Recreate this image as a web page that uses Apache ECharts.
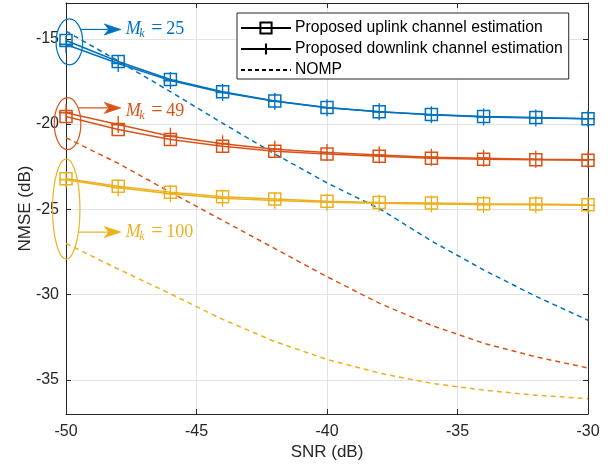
<!DOCTYPE html>
<html>
<head>
<meta charset="utf-8">
<script src="https://cdn.jsdelivr.net/npm/echarts@6/dist/echarts.min.js"></script>
<style>
  html, body { margin: 0; padding: 0; background: #fff; }
  #chart { width: 610px; height: 465px; }
</style>
</head>
<body>
<div id="chart"></div>
<script>
// SNR sweep (dB)
const snr = [-50, -48, -46, -44, -42, -40, -38, -36, -34, -32, -30];

// NMSE (dB), M_k = 25
const up25   = [-15.10, -16.33, -17.39, -18.11, -18.64, -19.03, -19.27, -19.44, -19.56, -19.62, -19.68];
const down25 = [-15.33, -16.45, -17.45, -18.15, -18.66, -19.04, -19.28, -19.46, -19.58, -19.64, -19.69];
const nomp25 = [-14.55, -16.30, -18.10, -19.95, -21.75, -23.45, -24.95, -26.85, -28.55, -30.10, -31.50];

// NMSE (dB), M_k = 49
const up49   = [-19.56, -20.32, -20.91, -21.30, -21.59, -21.76, -21.89, -22.00, -22.06, -22.09, -22.12];
const down49 = [-19.33, -20.03, -20.71, -21.15, -21.47, -21.67, -21.82, -21.94, -22.00, -22.06, -22.09];
const nomp49 = [-20.80, -22.30, -24.00, -25.65, -27.30, -28.95, -30.50, -31.80, -32.85, -33.65, -34.30];

// NMSE (dB), M_k = 100
const up100   = [-23.20, -23.65, -23.99, -24.26, -24.39, -24.52, -24.60, -24.63, -24.67, -24.69, -24.73];
const down100 = [-23.26, -23.73, -24.08, -24.35, -24.48, -24.58, -24.64, -24.68, -24.72, -24.73, -24.76];
const nomp100 = [-27.00, -28.50, -29.95, -31.45, -32.75, -33.80, -34.60, -35.20, -35.60, -35.90, -36.10];

// Axis ticks
const xTicks = [-50, -45, -40, -35, -30];
const yTicks = [-35, -30, -25, -20, -15];

// Legend entries
const legendNames = ['Proposed uplink channel estimation', 'Proposed downlink channel estimation', 'NOMP'];

const groups = [
  { k: '25',  color: '#0072BD', up: up25,  down: down25,  nomp: nomp25 },
  { k: '49',  color: '#D95319', up: up49,  down: down49,  nomp: nomp49 },
  { k: '100', color: '#EDB120', up: up100, down: down100, nomp: nomp100 }
];

const FONT = '"Liberation Sans", Arial, Helvetica, sans-serif';
const AXIS_COLOR = '#262626';
const GRID_COLOR = '#e3e3e3';
const PLUS = 'path://M5,0L5,10M0,5L10,5';
const DASH = [5, 4];

const pairs = ys => snr.map((x, i) => [x, ys[i]]);

const series = [];
// black entries that only feed the legend
series.push({
  name: legendNames[0], type: 'line', data: [],
  symbol: 'rect', symbolSize: 12,
  itemStyle: { color: 'transparent', borderColor: '#000', borderWidth: 1 },
  lineStyle: { color: '#000', width: 1 }
});
series.push({
  name: legendNames[1], type: 'line', data: [],
  symbol: PLUS, symbolSize: 14,
  itemStyle: { color: 'transparent', borderColor: '#000', borderWidth: 1 },
  lineStyle: { color: '#000', width: 1 }
});
series.push({
  name: legendNames[2], type: 'line', data: [],
  symbol: 'none',
  itemStyle: { color: 'transparent', borderColor: 'transparent', borderWidth: 0 },
  lineStyle: { color: '#000', width: 1, type: [4, 3] }
});

groups.forEach(g => {
  series.push({
    name: 'NOMP M_k=' + g.k, type: 'line', data: pairs(g.nomp),
    symbol: 'none', silent: true,
    lineStyle: { color: g.color, width: 1.5, type: DASH }, z: 2
  });
  series.push({
    name: 'Uplink M_k=' + g.k, type: 'line', data: pairs(g.up),
    symbol: 'rect', symbolSize: 12, showAllSymbol: true, silent: true,
    itemStyle: { color: 'transparent', borderColor: g.color, borderWidth: 1.5 },
    lineStyle: { color: g.color, width: 1.5 }, z: 3
  });
  series.push({
    name: 'Downlink M_k=' + g.k, type: 'line', data: pairs(g.down),
    symbol: PLUS, symbolSize: [14, 17], showAllSymbol: true, silent: true,
    itemStyle: { color: 'transparent', borderColor: g.color, borderWidth: 1.5 },
    lineStyle: { color: g.color, width: 1.5 }, z: 3
  });
});

const axisCommon = {
  nameMoveOverlap: false,
  axisLine: { show: true, onZero: false, lineStyle: { color: AXIS_COLOR, width: 1 } },
  axisTick: { show: true, inside: true, length: 5, lineStyle: { color: AXIS_COLOR } }
};

const option = {
  animation: false,
  backgroundColor: '#fff',
  grid: { left: 66, right: 22, top: 3, bottom: 51, containLabel: false, outerBoundsMode: 'none' },
  legend: {
    data: legendNames,
    orient: 'vertical',
    left: 237, top: 13,
    itemWidth: 50, itemHeight: 14, itemGap: 5,
    padding: [7, 6, 1, 3],
    backgroundColor: '#fff',
    borderColor: AXIS_COLOR, borderWidth: 1,
    textStyle: { fontFamily: FONT, fontSize: 15.7, color: '#000', padding: [0, 0, 0, -1] },
    selectedMode: false
  },
  xAxis: [
    Object.assign({}, axisCommon, {
      type: 'value', min: -50, max: -30, interval: 5, position: 'bottom',
      name: 'SNR (dB)', nameLocation: 'middle', nameGap: 30,
      nameTextStyle: { fontFamily: FONT, fontSize: 17, color: AXIS_COLOR },
      axisLabel: { fontFamily: FONT, fontSize: 16, color: AXIS_COLOR, margin: 10 },
      splitLine: { show: true, lineStyle: { color: GRID_COLOR, width: 1 } }
    }),
    Object.assign({}, axisCommon, {
      type: 'value', min: -50, max: -30, interval: 5, position: 'top',
      axisLabel: { show: false }, splitLine: { show: false }
    })
  ],
  yAxis: [
    Object.assign({}, axisCommon, {
      type: 'value', min: -37, max: -12.9, position: 'left',
      axisTick: { show: true, inside: true, length: 5, lineStyle: { color: AXIS_COLOR }, customValues: yTicks },
      name: 'NMSE (dB)', nameLocation: 'middle', nameGap: 32,
      nameTextStyle: { fontFamily: FONT, fontSize: 17, color: AXIS_COLOR },
      axisLabel: { fontFamily: FONT, fontSize: 16, color: AXIS_COLOR, margin: 7, customValues: yTicks },
      splitLine: { show: true, lineStyle: { color: GRID_COLOR, width: 1 } }
    }),
    Object.assign({}, axisCommon, {
      type: 'value', min: -37, max: -12.9, position: 'right',
      axisTick: { show: true, inside: true, length: 5, lineStyle: { color: AXIS_COLOR }, customValues: yTicks },
      axisLabel: { show: false, customValues: yTicks }, splitLine: { show: false }
    })
  ],
  series: series
};

const chart = echarts.init(document.getElementById('chart'), null, { renderer: 'canvas' });
chart.setOption(option);

// Ellipse + arrow + M_k label for each antenna group
const notes = [
  { g: 0, center: [-49.87, -15.18], rx: 13.3, ry: 23, arrowY: -14.45, textY: -14.45 },
  { g: 1, center: [-49.94, -19.97], rx: 13.3, ry: 26, arrowY: -19.05, textY: -19.25 },
  { g: 2, center: [-49.99, -24.98], rx: 13.7, ry: 50, arrowY: -26.33, textY: -26.37 }
];
const arrowTipX = -47.9;

const measure = document.createElement('canvas').getContext('2d');
function textWidth(str, font) { measure.font = font; return measure.measureText(str).width; }

const graphics = [];
notes.forEach(n => {
  const g = groups[n.g];
  const c = chart.convertToPixel({ xAxisIndex: 0, yAxisIndex: 0 }, n.center);
  const ay = chart.convertToPixel({ xAxisIndex: 0, yAxisIndex: 0 }, [arrowTipX, n.arrowY]);
  const ty = chart.convertToPixel({ xAxisIndex: 0, yAxisIndex: 0 }, [arrowTipX, n.textY])[1];
  const tipX = ay[0], tipY = ay[1];
  const dy = (tipY - c[1]) / n.ry;
  const startX = c[0] + n.rx * Math.sqrt(Math.max(0, 1 - dy * dy));

  graphics.push({
    type: 'ellipse', silent: true, z: 10,
    shape: { cx: c[0], cy: c[1], rx: n.rx, ry: n.ry },
    style: { fill: 'none', stroke: g.color, lineWidth: 1.2 }
  });
  graphics.push({
    type: 'line', silent: true, z: 10,
    shape: { x1: startX, y1: tipY, x2: tipX - 10, y2: tipY },
    style: { stroke: g.color, lineWidth: 1.2 }
  });
  graphics.push({
    type: 'polygon', silent: true, z: 10,
    shape: { points: [[tipX, tipY], [tipX - 16.5, tipY - 5.5], [tipX - 12, tipY], [tipX - 16.5, tipY + 5.5]] },
    style: { fill: g.color, stroke: g.color, lineWidth: 0.8 }
  });

  const x0 = tipX + 5;
  const mFont = 'italic 18px "Liberation Serif"';
  const mW = textWidth('M', mFont);
  graphics.push({
    type: 'text', silent: true, z: 10, x: x0, y: ty,
    style: { text: 'M', font: mFont, fill: g.color, align: 'left', verticalAlign: 'middle' }
  });
  graphics.push({
    type: 'text', silent: true, z: 10, x: x0 + mW - 1.5, y: ty + 4.5,
    style: { text: 'k', font: 'italic 12px "Liberation Serif"', fill: g.color, align: 'left', verticalAlign: 'middle' }
  });
  graphics.push({
    type: 'text', silent: true, z: 10, x: x0 + 31, y: ty - 0.5,
    style: { text: '=', font: '20px "Liberation Serif"', fill: g.color, align: 'center', verticalAlign: 'middle' }
  });
  graphics.push({
    type: 'text', silent: true, z: 10, x: x0 + 40.5, y: ty,
    style: { text: g.k, font: '18px "Liberation Serif"', fill: g.color, align: 'left', verticalAlign: 'middle' }
  });
});

chart.setOption({ graphic: graphics });
</script>
</body>
</html>
